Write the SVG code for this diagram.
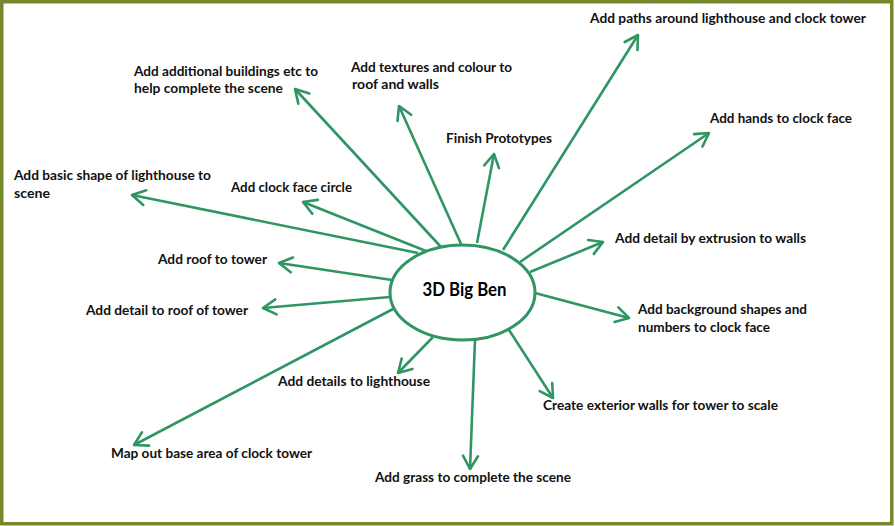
<svg xmlns="http://www.w3.org/2000/svg" width="895" height="526" viewBox="0 0 895 526">
<style>
.lbl{font-family:Lato,"Open Sans","Liberation Sans",sans-serif;font-weight:bold;font-size:13.3px;fill:#111;}
.ctr{font-family:Lato,"Open Sans","Liberation Sans",sans-serif;font-weight:bold;font-size:18px;fill:#000;}
.con{stroke:#2f9563;stroke-width:2.6;fill:none;marker-end:url(#ah);}
</style>
<defs>
<marker id="ah" markerUnits="userSpaceOnUse" markerWidth="24" markerHeight="24" viewBox="-16 -12 24 24" refX="0" refY="0" orient="auto" overflow="visible">
<path d="M-13,-7.5 L0,0 L-13,7.5" fill="none" stroke="#2f9563" stroke-width="2.6" stroke-linecap="round" stroke-linejoin="round"/>
</marker>
</defs>
<rect x="0" y="0" width="895" height="526" fill="#ffffff"/>
<rect x="1.75" y="1.75" width="890" height="522" fill="none" stroke="#77882c" stroke-width="3.5"/>
<g id="connectors">
<line class="con" x1="503" y1="250" x2="638" y2="35"/>
<line class="con" x1="520" y1="262" x2="709" y2="133"/>
<line class="con" x1="477" y1="243" x2="494" y2="154"/>
<line class="con" x1="461" y1="244" x2="399" y2="106"/>
<line class="con" x1="441" y1="247" x2="295" y2="89"/>
<line class="con" x1="418" y1="253" x2="132" y2="195"/>
<line class="con" x1="426" y1="251" x2="303" y2="202"/>
<line class="con" x1="392" y1="280" x2="279" y2="263"/>
<line class="con" x1="390" y1="297" x2="263" y2="308"/>
<line class="con" x1="393" y1="309" x2="134" y2="445"/>
<line class="con" x1="433" y1="337" x2="398" y2="373"/>
<line class="con" x1="475" y1="340" x2="470" y2="469"/>
<line class="con" x1="509" y1="330" x2="553" y2="398"/>
<line class="con" x1="535" y1="293" x2="629" y2="318"/>
<line class="con" x1="530" y1="272" x2="603" y2="242"/>
</g>
<g id="center">
<ellipse cx="462.5" cy="292.5" rx="72.5" ry="47.5" fill="#ffffff" stroke="#2f9563" stroke-width="3"/>
<text class="ctr" x="464.5" y="296" text-anchor="middle" textLength="84" lengthAdjust="spacingAndGlyphs">3D Big Ben</text>
</g>
<g id="n-paths"><text class="lbl" x="590" y="23" textLength="276" lengthAdjust="spacingAndGlyphs">Add paths around lighthouse and clock tower</text></g>
<g id="n-hands"><text class="lbl" x="710" y="123" textLength="142" lengthAdjust="spacingAndGlyphs">Add hands to clock face</text></g>
<g id="n-buildings"><text class="lbl" x="134" y="76" textLength="184" lengthAdjust="spacingAndGlyphs">Add additional buildings etc to</text><text class="lbl" x="134" y="93" textLength="149" lengthAdjust="spacingAndGlyphs">help complete the scene</text></g>
<g id="n-textures"><text class="lbl" x="351" y="72" textLength="161" lengthAdjust="spacingAndGlyphs">Add textures and colour to</text><text class="lbl" x="352" y="89" textLength="87" lengthAdjust="spacingAndGlyphs">roof and walls</text></g>
<g id="n-prototypes"><text class="lbl" x="446" y="143" textLength="106" lengthAdjust="spacingAndGlyphs">Finish Prototypes</text></g>
<g id="n-clockface"><text class="lbl" x="231" y="192" textLength="121" lengthAdjust="spacingAndGlyphs">Add clock face circle</text></g>
<g id="n-lighthouse"><text class="lbl" x="14" y="180" textLength="197" lengthAdjust="spacingAndGlyphs">Add basic shape of lighthouse to</text><text class="lbl" x="14" y="198" textLength="36" lengthAdjust="spacingAndGlyphs">scene</text></g>
<g id="n-roof"><text class="lbl" x="158" y="264" textLength="109" lengthAdjust="spacingAndGlyphs">Add roof to tower</text></g>
<g id="n-roofdetail"><text class="lbl" x="86" y="315" textLength="162" lengthAdjust="spacingAndGlyphs">Add detail to roof of tower</text></g>
<g id="n-extrusion"><text class="lbl" x="615" y="243" textLength="191" lengthAdjust="spacingAndGlyphs">Add detail by extrusion to walls</text></g>
<g id="n-background"><text class="lbl" x="638" y="314" textLength="169" lengthAdjust="spacingAndGlyphs">Add background shapes and</text><text class="lbl" x="638" y="332" textLength="132" lengthAdjust="spacingAndGlyphs">numbers to clock face</text></g>
<g id="n-exterior"><text class="lbl" x="543" y="410" textLength="235" lengthAdjust="spacingAndGlyphs">Create exterior walls for tower to scale</text></g>
<g id="n-lhdetails"><text class="lbl" x="278" y="386" textLength="152" lengthAdjust="spacingAndGlyphs">Add details to lighthouse</text></g>
<g id="n-base"><text class="lbl" x="111" y="458" textLength="201" lengthAdjust="spacingAndGlyphs">Map out base area of clock tower</text></g>
<g id="n-grass"><text class="lbl" x="375" y="482" textLength="196" lengthAdjust="spacingAndGlyphs">Add grass to complete the scene</text></g>
</svg>
